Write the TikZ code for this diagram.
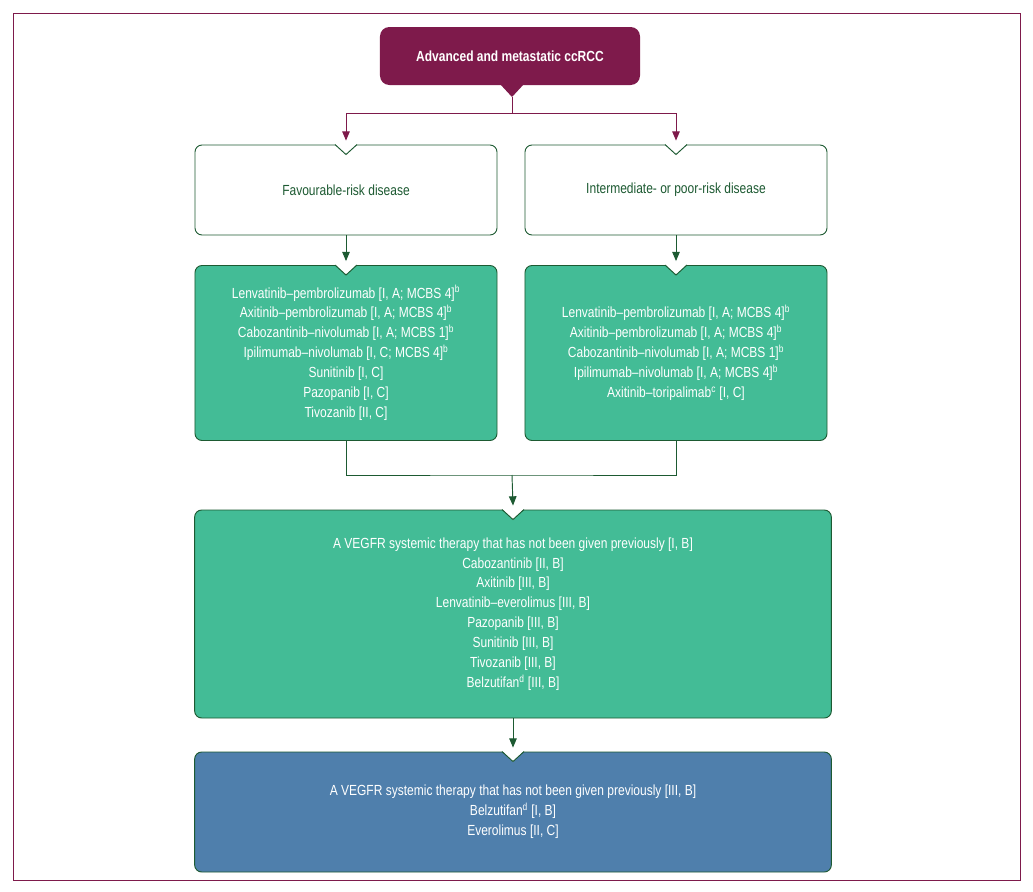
\documentclass[tikz,border=0pt]{standalone}
\usepackage{fontspec}
\setmainfont{Liberation Sans}[FakeStretch=0.82]
\usepackage{xcolor}
\usetikzlibrary{calc,shapes,positioning}
\usetikzlibrary{arrows}
\definecolor{maroon}{HTML}{7E1A4B}
\definecolor{dgreen}{HTML}{1D5A32}
\definecolor{mint}{HTML}{43BC96}
\definecolor{steel}{HTML}{4F7FAC}
\begin{document}
\begin{tikzpicture}[x=0.03cm,y=-0.03cm]
      \tikzstyle{topnode} = [fill=maroon, rounded corners = 8pt, text=white, font=\bfseries\fontsize{12.5}{15}\selectfont, minimum width=7.8cm, minimum height=1.74cm]
      \tikzstyle{rnode} = [thick, draw=dgreen, fill=white, rounded corners = 6pt, text=dgreen, font=\fontsize{12.5}{15}\selectfont, minimum width=9.06cm, minimum height=2.7cm]
      \tikzstyle{tnode} = [thick, draw=dgreen, rounded corners = 6pt, text=white, align=center, font=\fontsize{12.5}{17}\selectfont]
      \tikzstyle{mlink} = [thick, draw=maroon, -triangle 45]
      \tikzstyle{glink} = [thick, draw=dgreen, -triangle 45]

      \useasboundingbox (0,0) rectangle (1033,891);
      \draw[maroon] (13,13) rectangle (1020,880);

      \node[topnode] (adv) at (510,56) {Advanced and metastatic ccRCC};
      \fill[maroon] (500,84) -- (512,97) -- (524,84) -- cycle;

      \node[rnode] (fav) at (346,190) {Favourable-risk disease};
      \node[rnode] (ipr) at (676,190) {Intermediate- or poor-risk disease};

      \node[tnode, fill=mint, minimum width=9.06cm, minimum height=5.25cm] (favt) at (346,353)
        {Lenvatinib--pembrolizumab [I, A; MCBS 4]\textsuperscript{b}\\
         Axitinib--pembrolizumab [I, A; MCBS 4]\textsuperscript{b}\\
         Cabozantinib--nivolumab [I, A; MCBS 1]\textsuperscript{b}\\
         Ipilimumab--nivolumab [I, C; MCBS 4]\textsuperscript{b}\\
         Sunitinib [I, C]\\ Pazopanib [I, C]\\ Tivozanib [II, C]};
      \node[tnode, fill=mint, minimum width=9.06cm, minimum height=5.25cm] (iprt) at (676,353)
        {Lenvatinib--pembrolizumab [I, A; MCBS 4]\textsuperscript{b}\\
         Axitinib--pembrolizumab [I, A; MCBS 4]\textsuperscript{b}\\
         Cabozantinib--nivolumab [I, A; MCBS 1]\textsuperscript{b}\\
         Ipilimumab--nivolumab [I, A; MCBS 4]\textsuperscript{b}\\
         Axitinib--toripalimab\textsuperscript{c} [I, C]};

      \node[tnode, fill=mint, minimum width=19.1cm, minimum height=6.24cm] (sec) at (513,614)
        {A VEGFR systemic therapy that has not been given previously [I, B]\\
         Cabozantinib [II, B]\\ Axitinib [III, B]\\ Lenvatinib--everolimus [III, B]\\
         Pazopanib [III, B]\\ Sunitinib [III, B]\\ Tivozanib [III, B]\\
         Belzutifan\textsuperscript{d} [III, B]};
      \node[tnode, fill=steel, minimum width=19.1cm, minimum height=3.6cm] (thi) at (513,812)
        {A VEGFR systemic therapy that has not been given previously [III, B]\\
         Belzutifan\textsuperscript{d} [I, B]\\ Everolimus [II, C]};

      % notches
      \foreach \n/\c in {fav/white, ipr/white, favt/white, iprt/white, sec/white, thi/white} {
        \fill[\c] ($(\n.north)+(-11,-1)$) -- ($(\n.north)+(0,10)$) -- ($(\n.north)+(11,-1)$) -- cycle;
        \draw[thick, dgreen] ($(\n.north)+(-11,0)$) -- ($(\n.north)+(0,10)$) -- ($(\n.north)+(11,0)$);
      }

      % connections
      \coordinate (split) at (512,113);
      \draw[thick, maroon] (512,97) -- (split);
      \draw[mlink] (split) -| ($(fav.north)+(0,-4)$);
      \draw[mlink] (split) -| ($(ipr.north)+(0,-4)$);

      \draw[glink] (fav.south) -- ($(favt.north)+(0,-4)$);
      \draw[glink] (ipr.south) -- ($(iprt.north)+(0,-4)$);

      \coordinate (join) at (512,475);
      \draw[thick, dgreen] (favt.south) |- (join) -| (iprt.south);
      \draw[glink] (join) -- ($(sec.north)+(0,-4)$);
      \draw[glink] (sec.south) -- ($(thi.north)+(0,-4)$);
    \end{tikzpicture}
\end{document}
